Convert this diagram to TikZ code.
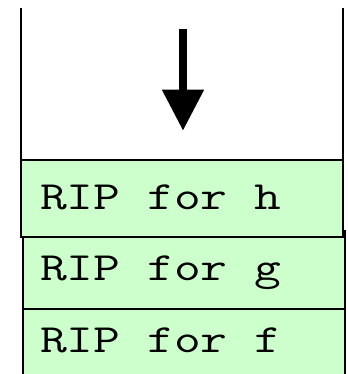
\documentclass[tikz,border=0pt]{standalone}
\usepackage{graphicx}
\usetikzlibrary{arrows.meta}
\definecolor{ripgreen}{RGB}{204,255,204}
\newcommand{\riptext}[1]{\scalebox{1.3}[1]{#1}}
\tikzset{
  frame/.style={line width=2.2bp, black},
  ripbox/.style={fill=ripgreen, draw=black, line width=2.2bp},
  riplabel/.style={anchor=base west, inner sep=0pt, font=\fontsize{40bp}{40bp}\selectfont\ttfamily},
  growarrow/.style={line width=8bp, -{Triangle[width=40bp,length=41bp]}}
}
\begin{document}
\begin{tikzpicture}[x=1bp,y=-1bp]
\useasboundingbox (0,0) rectangle (348,374);
% frame of the free region
\draw[frame] (20.7,8) -- (20.7,160);
\draw[frame] (342.7,8) -- (342.7,160);
% arrow
\coordinate (astart) at (183,29);
\coordinate (aend) at (183,130.7);
\draw[growarrow] (astart) -- (aend);
% f box (open at the bottom)
\fill[ripgreen] (22.7,309) rectangle (345.3,376);
\draw[frame] (22.7,376) -- (22.7,309) -- (345.3,309) -- (345.3,376);
\node[riplabel] (f) at (40,352) {\riptext{RIP for f}};
% g box
\draw[ripbox] (22.7,231) rectangle (345.3,309);
\node[riplabel] (g) at (40,280) {\riptext{RIP for g}};
% h box
\draw[ripbox] (20.7,160) rectangle (342.7,237);
\node[riplabel] (h) at (40,209) {\riptext{RIP for h}};
\end{tikzpicture}
\end{document}
